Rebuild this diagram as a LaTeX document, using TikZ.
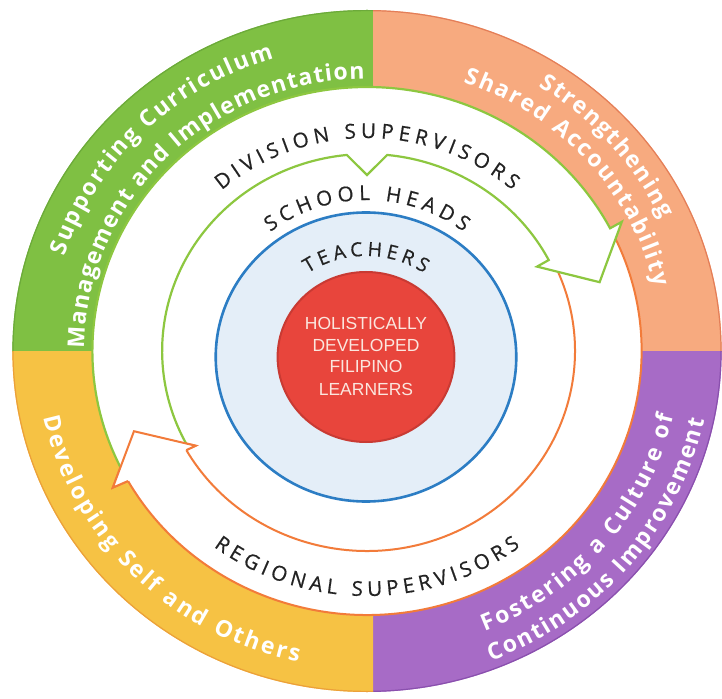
\documentclass[tikz,border=0pt]{standalone}
\usepackage{fontspec}
\newfontfamily\osans{Open Sans}
\newfontfamily\osansmed{Open Sans}[FakeBold=0.6]
\newfontfamily\lsans{Liberation Sans}
\usetikzlibrary{decorations.text}
\definecolor{qgreen}{HTML}{7FC043}
\definecolor{qgreenD}{HTML}{6CAA3A}
\definecolor{qsalmon}{HTML}{F7AA7F}
\definecolor{qsalmonD}{HTML}{E47E58}
\definecolor{qpurple}{HTML}{A76BC6}
\definecolor{qpurpleD}{HTML}{8A50AE}
\definecolor{qyellow}{HTML}{F6C244}
\definecolor{qyellowD}{HTML}{ECA03A}
\definecolor{arrgreen}{HTML}{8DC740}
\definecolor{arrorange}{HTML}{F27B3A}
\definecolor{bluefill}{HTML}{E4EEF8}
\definecolor{blueline}{HTML}{2C7DC4}
\definecolor{redfill}{HTML}{E8453C}
\definecolor{redline}{HTML}{C93A33}
\definecolor{redtext}{HTML}{FBE6DE}
\definecolor{midgray}{HTML}{232323}
\newcommand\ringfont{\osans\bfseries\fontsize{23}{23}\selectfont}
\newcommand\midfont{\osansmed\fontsize{20.5}{20.5}\selectfont}
\newcommand\smallmid{\osansmed\fontsize{19.5}{19.5}\selectfont}
\tikzset{
  redtxt/.style={font=\lsans\fontsize{17.5}{17.5}\selectfont, text=redtext, inner sep=0pt, anchor=base},
  ringline/.style={line width=1.2pt},
  arrowband/.style={fill=white, line width=2.2pt, line join=miter},
}
\begin{document}
\begin{tikzpicture}[x=1pt,y=1pt]
\useasboundingbox (-367,-347) rectangle (355,351);
\fill[white] (-367,-347) rectangle (355,351);
\begin{scope}[xscale=1.04]
  % green quadrant
  \begin{scope}
    \clip (-400,-1) rectangle (5.8,400);
    \fill[qgreen, even odd rule] (0,0) circle[radius=341] (0,0) circle[radius=264];
    \draw[qgreenD, ringline] (0,0) circle[radius=340.4];
  \end{scope}
  % salmon quadrant
  \begin{scope}
    \clip (5.8,-1) rectangle (400,400);
    \fill[qsalmon, even odd rule] (0,0) circle[radius=341] (0,0) circle[radius=264];
    \draw[qsalmonD, ringline] (0,0) circle[radius=340.4];
  \end{scope}
  % purple quadrant
  \begin{scope}
    \clip (5.8,-1) rectangle (400,-400);
    \fill[qpurple, even odd rule] (0,0) circle[radius=341] (0,0) circle[radius=264];
    \draw[qpurpleD, ringline] (0,0) circle[radius=340.4];
  \end{scope}
  % yellow quadrant
  \begin{scope}
    \clip (-400,-1) rectangle (5.8,-400);
    \fill[qyellow, even odd rule] (0,0) circle[radius=341] (0,0) circle[radius=264];
    \draw[qyellowD, ringline] (0,0) circle[radius=340.4];
  \end{scope}
  % inner circles
  \filldraw[fill=bluefill, draw=blueline, line width=2.6pt] (-0.96,-6) circle[radius=144.5];
  \filldraw[fill=redfill, draw=redline, line width=2pt] (-0.96,-6) circle[radius=85];
  % orange arrow (regional)
  \filldraw[arrowband, draw=arrorange, line width=2pt]
    (26:264) arc[start angle=26, end angle=-150.5, radius=264]
    -- (-150.8:280) -- (-160.3:238) -- (-150.1:190) -- (-150.3:200)
    arc[start angle=-150.3, end angle=26, radius=200];
  % green arrow (division)
  \filldraw[arrowband, draw=arrgreen]
    (209:264) arc[start angle=209, end angle=27.7, radius=264]
    -- (27.8:277) -- (17.1:234) -- (27.3:184) -- (27.5:197)
    arc[start angle=27.5, end angle=84.35, radius=197]
    -- (90:176) -- (95.65:197)
    arc[start angle=95.65, end angle=209, radius=197];
  % orange arrow head on top
  \filldraw[arrowband, draw=arrorange, line width=2pt]
    (-150.5:264) -- (-150.8:280) -- (-160.3:238) -- (-150.1:190) -- (-150.3:200);
\end{scope}
% ring texts
\path[decorate, decoration={text along path, text align={fit to path}, text color=white,
  text={|\ringfont|Supporting Curriculum}}]
  (162:318.2 and 306) arc[start angle=162, end angle=107, x radius=318.2, y radius=306];
\path[decorate, decoration={text along path, text align={fit to path}, text color=white,
  text={|\ringfont|Management and Implementation}}]
  (179.5:282.9 and 272) arc[start angle=179.5, end angle=90.5, x radius=282.9, y radius=272];
\path[decorate, decoration={text along path, text align={fit to path}, text color=white,
  text={|\ringfont|Strengthening}}]
  (58:324.5 and 312) arc[start angle=58, end angle=25, x radius=324.5, y radius=312];
\path[decorate, decoration={text along path, text align={fit to path}, text color=white,
  text={|\ringfont|Shared Accountability}}]
  (71:295.4 and 284) arc[start angle=71, end angle=13, x radius=295.4, y radius=284];
\path[decorate, decoration={text along path, text align={fit to path}, text color=white,
  text={|\ringfont|Fostering a Culture of}}]
  (-68:314.1 and 302) arc[start angle=-68, end angle=-12.5, x radius=314.1, y radius=302];
\path[decorate, decoration={text along path, text align={fit to path}, text color=white,
  text={|\ringfont|Continuous Improvement}}]
  (-69:345.3 and 332) arc[start angle=-69, end angle=-12, x radius=345.3, y radius=332];
\path[decorate, decoration={text along path, text align={fit to path}, text color=white,
  text={|\ringfont|Developing Self and Others}}]
  (192:330.7 and 318) arc[start angle=192, end angle=258, x radius=330.7, y radius=318];
% band texts
\path[decorate, decoration={text along path, text align={fit to path}, text color=midgray,
  text={|\midfont|DIVISION SUPERVISORS}}]
  (131:221.5 and 213) arc[start angle=131, end angle=49, x radius=221.5, y radius=213];
\path[decorate, decoration={text along path, text align={fit to path}, text color=midgray,
  text={|\midfont|SCHOOL HEADS}}]
  (128:157 and 151) arc[start angle=128, end angle=52, x radius=157, y radius=151];
\path[shift={(-1,-6)}, decorate, decoration={text along path, text align={fit to path}, text color=midgray,
  text={|\smallmid|TEACHERS}}]
  (124:104 and 101) arc[start angle=124, end angle=56, x radius=104, y radius=101];
\path[decorate, decoration={text along path, text align={fit to path}, text color=midgray,
  text={|\midfont|REGIONAL SUPERVISORS}}]
  (233:254.8 and 245) arc[start angle=233, end angle=307, x radius=254.8, y radius=245];
% centre text
\node[redtxt] (l1) at (-1,21) {HOLISTICALLY};
\node[redtxt] (l2) at (-1,-1) {DEVELOPED};
\node[redtxt] (l3) at (-1,-22) {FILIPINO};
\node[redtxt] (l4) at (-1,-44) {LEARNERS};
\end{tikzpicture}
\end{document}
